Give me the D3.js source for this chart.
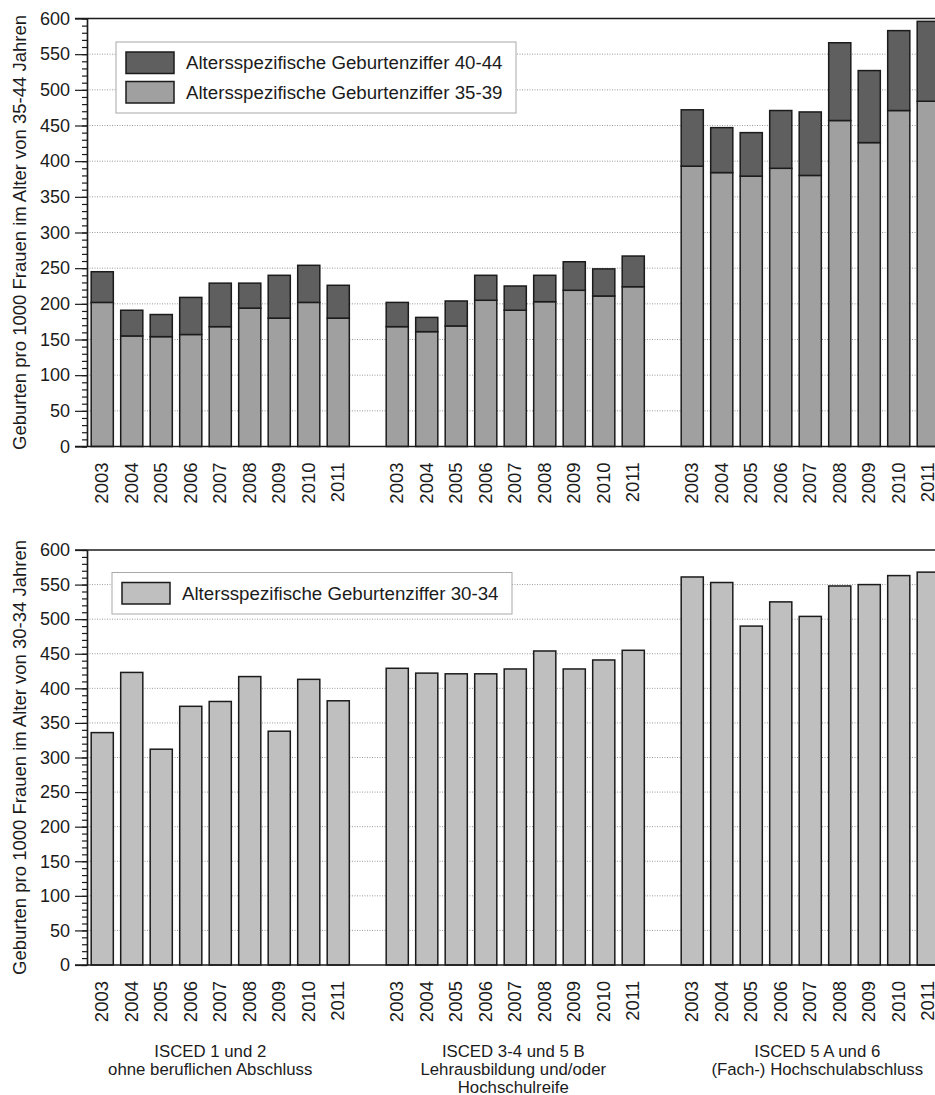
<!DOCTYPE html>
<html>
<head>
<meta charset="utf-8">
<script src="https://cdn.jsdelivr.net/npm/d3@7"></script>
<style>
  html, body { margin: 0; padding: 0; background: #fff; }
  svg { display: block; font-family: "Liberation Sans", Arial, sans-serif; }
</style>
</head>
<body>
<svg id="chart" width="935" height="1095"></svg>
<script>
'use strict';

const years = ['2003', '2004', '2005', '2006', '2007', '2008', '2009', '2010', '2011'];

const groupLabels = [
  ['ISCED 1 und 2', 'ohne beruflichen Abschluss'],
  ['ISCED 3-4 und 5 B', 'Lehrausbildung und/oder', 'Hochschulreife'],
  ['ISCED 5 A und 6', '(Fach-) Hochschulabschluss']
];

// Altersspezifische Geburtenziffer 35-39, per group
const rate35to39 = [
  [202, 155, 154, 157, 168, 194, 180, 202, 180],
  [168, 161, 169, 205, 191, 203, 219, 211, 224],
  [393, 384, 379, 390, 380, 457, 426, 471, 484]
];

// Altersspezifische Geburtenziffer 40-44 (stacked on top)
const rate40to44 = [
  [43, 36, 31, 52, 61, 35, 60, 52, 46],
  [34, 20, 35, 35, 34, 37, 40, 38, 43],
  [79, 63, 61, 81, 89, 109, 101, 112, 112]
];

// Altersspezifische Geburtenziffer 30-34
const rate30to34 = [
  [336, 423, 312, 374, 381, 417, 338, 413, 382],
  [429, 422, 421, 421, 428, 454, 428, 441, 455],
  [561, 553, 490, 525, 504, 548, 550, 563, 568]
];

const yTicks = d3.range(0, 601, 50);

const W = 935;
const AXIS_X = 87;
const DARK = '#5f5f5f';
const MID = '#a0a0a0';
const LIGHT = '#bfbfbf';
const INK = '#1b1b1b';

const svg = d3.select('#chart');
svg.append('rect').attr('width', W).attr('height', 1095).attr('fill', '#fff');

// 9 bars per group, one empty slot between groups
const slots = [];
groupLabels.forEach((g, gi) => {
  if (gi > 0) slots.push('gap' + gi);
  years.forEach(yr => slots.push(gi + '-' + yr));
});

const x = d3.scaleBand()
  .domain(slots)
  .range([AXIS_X + 0.5, 943])
  .paddingInner(0.25)
  .paddingOuter(0.125);

function drawPanel(opts) {
  const y = d3.scaleLinear().domain([0, 600]).range([opts.bottom, opts.top]);
  const g = svg.append('g');

  // dotted grid
  g.append('g').selectAll('line')
    .data(yTicks.filter(v => v > 0 && v < 600))
    .enter().append('line')
    .attr('x1', AXIS_X).attr('x2', W)
    .attr('y1', d => y(d)).attr('y2', d => y(d))
    .attr('stroke', '#808080')
    .attr('stroke-width', 0.8)
    .attr('stroke-dasharray', '1,1.5');

  // bars
  const rows = [];
  opts.layers[0].values.forEach((vals, gi) => {
    vals.forEach((v, i) => {
      let base = 0;
      opts.layers.forEach(layer => {
        const val = layer.values[gi][i];
        rows.push({ key: gi + '-' + years[i], y0: base, y1: base + val, fill: layer.fill });
        base += val;
      });
    });
  });

  g.append('g').selectAll('rect')
    .data(rows)
    .enter().append('rect')
    .attr('x', d => x(d.key))
    .attr('width', x.bandwidth())
    .attr('y', d => y(d.y1))
    .attr('height', d => y(d.y0) - y(d.y1))
    .attr('fill', d => d.fill)
    .attr('stroke', INK)
    .attr('stroke-width', 1.5);

  // frame lines
  g.append('line')
    .attr('x1', AXIS_X - 12).attr('x2', W)
    .attr('y1', y(600)).attr('y2', y(600))
    .attr('stroke', INK).attr('stroke-width', 1.5);
  g.append('line')
    .attr('x1', AXIS_X - 12).attr('x2', W)
    .attr('y1', y(0)).attr('y2', y(0))
    .attr('stroke', INK).attr('stroke-width', 1.5);

  // y axis: minor + major ticks
  g.append('g')
    .attr('transform', `translate(${AXIS_X},0)`)
    .call(d3.axisLeft(y).tickValues(d3.range(0, 601, 10)).tickSize(5).tickSizeOuter(0).tickFormat(''))
    .call(a => a.selectAll('line, path').attr('stroke', INK).attr('stroke-width', 1.2));

  g.append('g')
    .attr('transform', `translate(${AXIS_X},0)`)
    .call(d3.axisLeft(y).tickValues(yTicks).tickSize(12).tickSizeOuter(0).tickPadding(5))
    .call(a => a.select('.domain').attr('stroke', INK).attr('stroke-width', 1.5))
    .call(a => a.selectAll('.tick line').attr('stroke', INK).attr('stroke-width', 1.2))
    .call(a => a.selectAll('.tick text')
      .attr('fill', INK)
      .style('font-size', '18px')
      .style('font-family', '"Liberation Sans", Arial, sans-serif'));

  // year labels
  g.append('g').selectAll('text')
    .data(slots.filter(s => !s.startsWith('gap')))
    .enter().append('text')
    .attr('transform', d => `translate(${x(d) + x.bandwidth() / 2 + 5.8},${opts.bottom + 16}) rotate(-90)`)
    .attr('text-anchor', 'end')
    .attr('fill', INK)
    .style('font-size', '18.5px')
    .text(d => d.split('-')[1]);

  // axis title
  g.append('text')
    .attr('transform', `translate(26,${(opts.top + opts.bottom) / 2}) rotate(-90)`)
    .attr('text-anchor', 'middle')
    .attr('fill', INK)
    .style('font-size', '18.5px')
    .text(opts.title);

  // legend
  const lg = opts.legend;
  const lgH = lg.rowH * opts.layers.length + lg.pad * 2 - (lg.rowH - lg.swH);
  g.append('rect')
    .attr('x', lg.x).attr('y', lg.y)
    .attr('width', lg.w).attr('height', lgH)
    .attr('fill', '#fff')
    .attr('stroke', '#a8a8a8')
    .attr('stroke-width', 1);

  const items = opts.layers.slice().reverse();
  const li = g.append('g').selectAll('g')
    .data(items)
    .enter().append('g')
    .attr('transform', (d, i) => `translate(${lg.x + 10},${lg.y + lg.pad + i * lg.rowH})`);
  li.append('rect')
    .attr('width', 48).attr('height', lg.swH)
    .attr('fill', d => d.fill)
    .attr('stroke', INK).attr('stroke-width', 1.5);
  li.append('text')
    .attr('x', 60)
    .attr('y', lg.swH / 2)
    .attr('dy', '0.36em')
    .attr('fill', INK)
    .style('font-size', '18.7px')
    .text(d => d.name);
}

drawPanel({
  top: 18.5,
  bottom: 446.5,
  title: 'Geburten pro 1000 Frauen im Alter von 35-44 Jahren',
  layers: [
    { name: 'Altersspezifische Geburtenziffer 35-39', values: rate35to39, fill: MID },
    { name: 'Altersspezifische Geburtenziffer 40-44', values: rate40to44, fill: DARK }
  ],
  legend: { x: 116, y: 42, w: 400, pad: 10, rowH: 29.5, swH: 21.5 }
});

drawPanel({
  top: 550,
  bottom: 965,
  title: 'Geburten pro 1000 Frauen im Alter von 30-34 Jahren',
  layers: [
    { name: 'Altersspezifische Geburtenziffer 30-34', values: rate30to34, fill: LIGHT }
  ],
  legend: { x: 112, y: 572.5, w: 400, pad: 10, rowH: 29.5, swH: 21.5 }
});

// group captions under the lower panel
const labelShift = [-10, -2, 7];
const cap = svg.append('g').selectAll('text')
  .data(groupLabels)
  .enter().append('text')
  .attr('text-anchor', 'middle')
  .attr('fill', INK)
  .style('font-size', '16.8px')
  .attr('transform', (d, gi) => {
    const first = x(gi + '-' + years[0]);
    const last = x(gi + '-' + years[years.length - 1]) + x.bandwidth();
    return `translate(${(first + last) / 2 + labelShift[gi]},1056.5)`;
  });
cap.selectAll('tspan')
  .data(d => d)
  .enter().append('tspan')
  .attr('x', 0)
  .attr('dy', (d, i) => i === 0 ? 0 : 18)
  .text(d => d);
</script>
</body>
</html>
